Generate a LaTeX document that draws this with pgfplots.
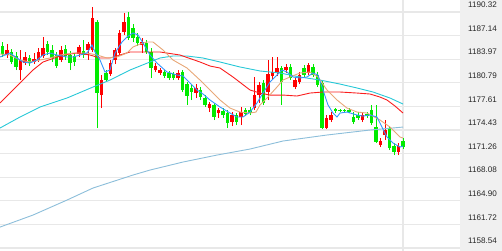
\documentclass[border=0pt]{standalone}
\usepackage{pgfplots}
\pgfplotsset{compat=1.18}
\usepackage{pgfplotstable}
\usepackage{fontspec}
\setmainfont{Liberation Sans}
\definecolor{cred}{RGB}{255,0,0}
\definecolor{cgreen}{RGB}{0,235,0}
\definecolor{maA}{RGB}{51,150,255}
\definecolor{maB}{RGB}{232,168,120}
\definecolor{maC}{RGB}{250,30,30}
\definecolor{maD}{RGB}{40,200,215}
\definecolor{maE}{RGB}{140,190,218}
\definecolor{gridc}{RGB}{232,232,232}
\definecolor{panel}{RGB}{240,240,240}

\pgfplotstableread{
x o h l c
7.0 1184.53 1186.01 1184.13 1185.21
20.5 1182.51 1185.21 1181.16 1183.86
25.0 1183.45 1184.94 1183.18 1184.26
34.0 1183.59 1184.80 1183.32 1183.99
38.5 1183.86 1185.47 1183.59 1184.94
43.0 1184.40 1186.96 1184.13 1185.47
61.0 1183.86 1185.74 1183.59 1185.21
79.0 1184.67 1185.88 1184.26 1185.61
88.0 1185.21 1186.28 1183.86 1186.01
92.5 1185.21 1191.00 1184.94 1189.52
101.5 1179.14 1181.84 1177.39 1181.16
110.5 1181.97 1183.86 1181.70 1183.45
115.0 1183.86 1185.47 1183.32 1185.21
119.5 1184.80 1187.90 1184.53 1187.50
124.0 1187.63 1190.19 1187.23 1188.98
142.0 1185.88 1186.82 1184.80 1186.28
155.5 1182.51 1183.45 1182.24 1183.05
160.0 1182.11 1182.78 1181.84 1182.51
178.0 1181.43 1182.51 1181.16 1182.11
196.0 1179.41 1180.62 1178.74 1180.09
209.5 1177.39 1178.20 1176.85 1177.93
218.5 1176.72 1177.39 1176.05 1177.12
232.0 1175.51 1176.85 1174.97 1176.45
241.0 1176.18 1177.53 1175.10 1176.85
254.5 1177.39 1181.57 1177.12 1179.14
259.0 1179.14 1180.90 1178.07 1180.49
268.0 1179.55 1183.86 1178.47 1181.97
272.5 1181.70 1184.26 1181.16 1182.24
277.0 1182.11 1184.26 1181.70 1182.78
286.0 1182.51 1183.32 1182.11 1182.92
295.0 1180.22 1181.57 1179.95 1181.16
299.5 1180.90 1182.24 1180.62 1181.84
308.5 1182.11 1183.45 1181.84 1183.18
326.5 1174.70 1176.45 1174.56 1176.05
331.0 1175.78 1176.85 1175.51 1176.45
362.5 1175.78 1176.72 1175.51 1176.45
380.5 1172.41 1173.35 1172.14 1172.95
385.0 1173.76 1175.78 1173.08 1174.43
398.5 1171.47 1172.68 1171.06 1172.27
}\upc

\pgfplotstableread{
x o h l c
2.5 1185.74 1186.28 1184.26 1184.67
11.5 1184.94 1185.34 1183.32 1183.59
16.0 1184.40 1184.94 1182.51 1182.92
29.5 1184.13 1184.53 1183.05 1183.45
47.5 1186.01 1186.42 1184.53 1184.94
52.0 1185.21 1185.88 1183.59 1184.13
56.5 1184.53 1184.94 1182.78 1183.05
65.5 1185.34 1185.88 1183.86 1184.40
70.0 1184.53 1185.07 1182.51 1183.45
74.5 1184.40 1184.80 1183.05 1183.59
83.5 1185.07 1186.55 1184.13 1184.53
97.0 1188.98 1189.25 1174.70 1179.41
106.0 1182.11 1182.51 1180.90 1181.16
128.5 1189.65 1190.32 1186.55 1186.82
133.0 1188.17 1188.71 1186.28 1186.82
137.5 1186.96 1187.50 1185.74 1186.15
146.5 1186.15 1186.55 1184.67 1184.94
151.0 1184.94 1185.47 1181.43 1182.78
164.5 1182.24 1182.51 1181.43 1181.70
169.0 1182.11 1182.38 1181.16 1181.43
173.5 1181.97 1182.24 1181.16 1181.43
182.5 1182.24 1182.51 1179.55 1179.82
187.0 1180.62 1180.90 1177.80 1179.01
191.5 1180.09 1180.49 1178.47 1179.55
200.5 1179.82 1180.22 1178.47 1178.87
205.0 1178.74 1179.14 1177.53 1177.80
214.0 1177.80 1178.07 1175.78 1176.18
223.0 1176.99 1177.39 1176.05 1176.45
227.5 1176.72 1177.12 1174.70 1175.37
236.5 1176.45 1176.72 1175.10 1175.51
245.5 1177.12 1177.39 1176.31 1176.58
250.0 1177.12 1177.53 1176.45 1176.72
263.5 1180.76 1181.16 1177.80 1178.07
281.5 1182.78 1183.05 1177.80 1180.90
290.5 1182.92 1183.32 1181.16 1181.43
304.0 1182.78 1183.18 1181.57 1181.84
313.0 1182.92 1183.32 1181.57 1181.84
317.5 1181.84 1182.24 1180.22 1180.49
322.0 1180.76 1181.16 1174.56 1174.70
335.5 1177.26 1177.39 1176.72 1176.99
340.0 1177.12 1177.26 1176.85 1176.99
344.5 1177.12 1177.26 1176.85 1176.99
349.0 1177.12 1177.39 1176.72 1176.85
353.5 1176.18 1176.85 1175.24 1175.51
358.0 1176.45 1176.85 1175.78 1176.05
367.0 1176.58 1176.85 1176.05 1176.31
371.5 1177.12 1177.80 1175.10 1175.37
376.0 1174.83 1177.80 1172.68 1172.81
389.5 1174.70 1174.97 1171.74 1172.00
394.0 1172.27 1172.68 1171.06 1171.47
403.0 1172.95 1173.35 1171.87 1172.14
}\downc

\begin{document}
\begin{tikzpicture}
\fill[panel] (460pt,0pt) rectangle (502pt,251pt);
\begin{axis}[
  at={(0pt,0pt)}, anchor=south west,
  scale only axis, width=460pt, height=251pt,
  xmin=0, xmax=460, ymin=1158.14, ymax=1191.94,
  axis line style={draw=none},
  clip=false,
  xtick={403}, xticklabels={},
  xmajorgrids, ymajorgrids,
  major tick length=0pt,
  grid style={draw=gridc, line width=1.3pt},
  ytick={1158.54,1161.72,1164.90,1168.08,1171.26,1174.43,1177.61,1180.79,1183.97,1187.14,1190.32},
  yticklabels={1158.54,1161.72,1164.90,1168.08,1171.26,1174.43,1177.61,1180.79,1183.97,1187.14,1190.32},
  yticklabel pos=right,
  yticklabel style={font=\fontsize{8.1}{9}\selectfont, text=black!85, anchor=east, inner sep=1pt, xshift=38pt, yshift=7pt},
]
% wicks
\addplot[draw=cred, line width=0.8pt, line cap=butt, quiver={u=0, v=\thisrow{h}-\thisrow{l}}] table[x=x, y=l] {\upc};
\addplot[draw=cgreen, line width=0.8pt, line cap=butt, quiver={u=0, v=\thisrow{h}-\thisrow{l}}] table[x=x, y=l] {\downc};
% bodies
\addplot[draw=cred, line width=3.8pt, line cap=butt, quiver={u=0, v=\thisrow{c}-\thisrow{o}}] table[x=x, y=o] {\upc};
\addplot[draw=cgreen, line width=3.8pt, line cap=butt, quiver={u=0, v=\thisrow{c}-\thisrow{o}}] table[x=x, y=o] {\downc};
% long MA
\addplot[draw=maE, line width=0.9pt] coordinates {(0,1161.36) (33,1162.98) (67,1165.00) (93,1166.62) (133,1168.37) (150,1169.04) (183,1170.12) (217,1171.06) (250,1171.87) (283,1172.95) (327,1173.76) (370,1174.43) (403,1174.83)};
% cyan MA
\addplot[draw=maD, line width=0.9pt] coordinates {(0,1174.70) (20,1176.18) (40,1177.53) (67,1178.74) (93,1180.22) (110,1181.16) (120,1181.84) (130,1182.51) (140,1183.05) (160,1184.13) (173,1184.40) (187,1184.40) (203,1184.13) (220,1183.59) (240,1182.92) (260,1182.38) (280,1182.11) (300,1181.57) (320,1181.16) (340,1180.62) (357,1180.09) (373,1179.55) (390,1178.74) (403,1177.93)};
% red MA
\addplot[draw=maC, line width=0.9pt] coordinates {(0,1178.07) (20,1180.76) (33,1182.51) (43,1183.59) (63,1184.53) (77,1184.80) (90,1184.53) (100,1184.13) (110,1184.13) (120,1184.53) (130,1184.94) (140,1184.94) (160,1184.94) (180,1184.53) (200,1183.59) (210,1183.05) (220,1182.78) (233,1181.57) (250,1179.82) (260,1179.41) (270,1179.14) (283,1179.14) (297,1179.01) (310,1179.41) (323,1179.55) (340,1179.55) (357,1179.41) (370,1179.28) (380,1178.87) (387,1178.47) (395,1177.66) (403,1176.72)};
% orange MA
\addplot[draw=maB, line width=0.9pt] coordinates {(0,1184.67) (10,1184.53) (20,1183.86) (30,1183.59) (40,1183.86) (50,1184.13) (60,1184.53) (73,1184.80) (87,1184.80) (97,1184.53) (107,1184.13) (117,1184.26) (127,1184.80) (133,1185.61) (140,1186.01) (147,1186.28) (153,1186.28) (163,1185.21) (173,1183.86) (187,1182.78) (200,1181.16) (210,1179.82) (220,1178.47) (230,1177.39) (240,1176.85) (250,1176.72) (256,1176.85) (260,1177.80) (267,1178.74) (277,1180.22) (283,1181.16) (290,1181.57) (300,1182.11) (310,1182.24) (318,1181.57) (327,1179.82) (337,1178.47) (347,1177.39) (357,1176.85) (367,1176.72) (380,1175.78) (390,1174.83) (400,1173.49) (403,1173.35)};
% short MA
\addplot[draw=maA, line width=0.9pt] coordinates {(0,1184.26) (10,1184.80) (17,1184.13) (23,1183.59) (30,1183.45) (37,1183.86) (43,1184.53) (50,1184.80) (57,1184.53) (67,1184.26) (73,1184.26) (80,1184.53) (87,1184.80) (92,1185.88) (95,1184.94) (100,1183.86) (105,1182.24) (110,1182.51) (115,1184.80) (122,1186.28) (127,1186.96) (133,1187.50) (138,1187.23) (143,1186.15) (150,1184.53) (157,1183.45) (167,1182.24) (177,1181.84) (183,1181.70) (190,1180.76) (197,1179.82) (203,1179.28) (210,1178.47) (220,1177.53) (230,1176.72) (237,1176.18) (243,1176.18) (250,1176.85) (257,1178.07) (263,1179.41) (270,1180.90) (277,1181.84) (282,1182.51) (287,1182.24) (293,1181.57) (300,1181.43) (307,1181.57) (313,1182.11) (318,1181.84) (323,1179.82) (328,1177.80) (333,1176.72) (337,1176.18) (340,1176.72) (347,1176.85) (357,1176.45) (363,1176.31) (370,1176.45) (377,1176.18) (382,1174.83) (387,1173.49) (393,1172.68) (400,1172.14) (403,1172.27)};
\end{axis}
\pgfresetboundingbox
\path[use as bounding box] (0pt,0pt) rectangle (502pt,251pt);
\end{tikzpicture}
\end{document}
